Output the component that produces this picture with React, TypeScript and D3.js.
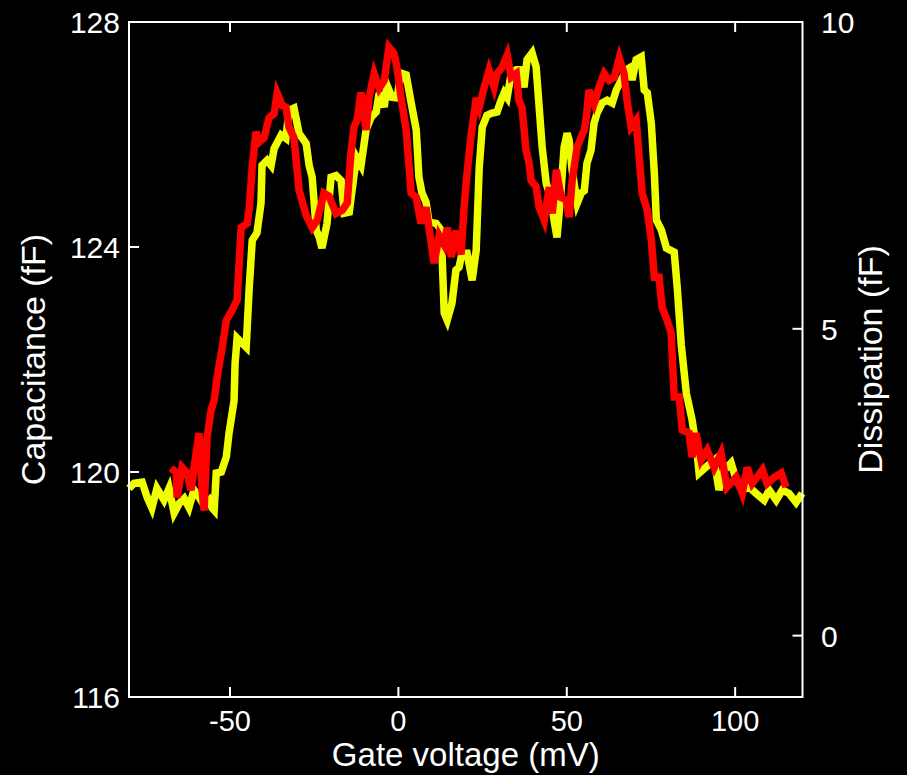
import React from "react";
import * as d3 from "d3";

// Gate-voltage sweep: capacitance (left axis) and dissipation (right axis)
const capVoltage = [
  -80, -78.5, -76.1, -74.6, -73.2, -71.7, -69.6, -68.1, -66.6, -65.1, -63.6, -62.2, -60.7, -59.2, -57.7, -56.2,
  -55.3, -54.7, -54.1, -52.6, -51.1, -50.3, -48.8, -48.5, -47.9, -45.2, -44.3, -43.4, -42.0, -40.8, -40.5, -39.0,
  -37.8, -36.9, -34.8, -33.4, -32.5, -31.0, -29.5, -27.4, -26.5, -25.6, -24.4, -23.5, -22.7, -21.2, -20.0, -18.5,
  -17.0, -16.1, -14.6, -13.1, -12.3, -11.1, -9.6, -8.1, -6.6, -5.7, -4.2, -3.4, -1.9, -0.4, 0.8, 2.3,
  3.8, 5.3, 6.1, 7.0, 8.2, 9.1, 11.2, 12.7, 13.6, 14.5, 15.9, 17.1, 18.0, 18.9, 20.4, 21.9,
  23.1, 24.0, 24.9, 26.3, 27.8, 29.3, 30.5, 31.4, 32.3, 33.5, 35.0, 36.4, 37.3, 38.2, 39.7, 40.9,
  41.8, 42.7, 43.9, 45.4, 46.2, 47.1, 48.3, 49.2, 50.1, 50.7, 51.6, 53.1, 54.3, 55.2, 56.0, 57.2,
  58.1, 59.0, 60.5, 62.0, 63.5, 64.7, 66.2, 67.7, 68.5, 69.4, 70.6, 72.1, 73.0, 73.9, 75.1, 76.0,
  76.6, 78.1, 79.6, 81.9, 82.8, 84.0, 85.5, 87.2, 88.7, 89.3, 91.4, 93.8, 95.2, 96.7, 98.8, 100.3,
  102.1, 104.2, 106.2, 108.6, 110.1, 112.2, 114.0, 116.0, 118.1, 119.9,
];
const capacitance = [
  119.71, 119.8, 119.82, 119.55, 119.36, 119.71, 119.5, 119.71, 119.27, 119.44, 119.53, 119.37, 119.68, 119.55, 119.41, 119.5,
  119.36, 119.32, 119.98, 120.0, 120.27, 120.69, 121.27, 121.93, 122.38, 122.22, 123.28, 124.12, 124.25, 124.78, 125.45, 125.54,
  125.45, 125.75, 125.99, 125.93, 126.43, 126.47, 126.02, 125.84, 125.45, 125.24, 124.3, 124.17, 123.98, 124.42, 125.24, 125.27,
  125.18, 124.6, 124.62, 125.31, 125.58, 125.45, 126.08, 126.31, 126.4, 126.74, 126.49, 126.88, 126.66, 126.65, 127.09, 127.06,
  126.56, 126.08, 125.24, 124.96, 124.8, 124.44, 124.42, 124.3, 122.83, 122.7, 123.0, 123.59, 123.64, 123.89, 123.89, 123.41,
  123.94, 125.41, 126.13, 126.34, 126.38, 126.4, 126.61, 126.74, 126.66, 127.09, 127.15, 127.15, 126.84, 127.33, 127.45, 127.2,
  126.49, 125.77, 125.13, 124.84, 124.48, 124.17, 125.0, 125.77, 126.02, 125.9, 125.36, 124.78, 124.96, 125.0, 125.49, 125.72,
  126.2, 126.38, 126.56, 126.61, 126.56, 126.79, 126.97, 127.15, 127.18, 126.97, 127.33, 127.38, 126.79, 126.74, 126.2, 125.31,
  124.48, 124.3, 123.98, 123.91, 123.28, 122.26, 121.4, 120.93, 120.34, 119.98, 120.09, 120.21, 119.68, 120.03, 120.16, 119.86,
  119.68, 119.73, 119.62, 119.5, 119.68, 119.5, 119.68, 119.62, 119.46, 119.62,
];

const dissVoltage = [
  -67.5, -66.0, -65.7, -64.2, -62.7, -61.6, -60.7, -59.2, -58.3, -57.7, -56.8, -55.6, -54.7, -53.8, -52.3, -51.1,
  -49.4, -47.9, -46.7, -44.9, -44.3, -43.4, -42.3, -41.4, -39.9, -38.4, -36.9, -36.0, -34.5, -33.4, -32.5, -31.0,
  -29.5, -27.4, -25.6, -24.1, -22.1, -20.6, -18.5, -16.7, -15.2, -14.1, -13.2, -12.3, -11.1, -9.6, -8.7, -7.2,
  -5.7, -4.2, -2.8, -1.3, -0.4, 0.8, 2.3, 3.8, 5.3, 6.7, 8.2, 9.1, 10.6, 12.1, 13.6, 14.5,
  15.7, 17.1, 18.6, 19.5, 20.4, 21.6, 23.1, 24.0, 25.5, 26.9, 28.4, 29.3, 30.8, 32.3, 33.5, 35.0,
  35.8, 36.7, 37.9, 38.8, 39.4, 40.9, 41.8, 43.3, 44.8, 45.7, 46.9, 48.3, 49.8, 50.7, 51.6, 53.1,
  54.3, 55.2, 55.8, 56.6, 58.1, 59.6, 61.1, 62.6, 64.1, 65.6, 67.0, 67.9, 69.1, 70.6, 71.5, 72.4,
  73.9, 75.1, 76.0, 77.4, 78.3, 79.8, 81.0, 81.9, 83.4, 84.3, 86.3, 87.2, 88.4, 89.9, 91.7, 93.8,
  95.8, 97.6, 100.3, 102.1, 103.6, 105.1, 108.1, 109.5, 111.6, 113.7, 115.1,
];
const dissipation = [
  2.73, 2.66, 2.25, 2.74, 2.65, 2.37, 2.73, 3.3, 2.37, 2.04, 3.24, 3.68, 3.84, 4.22, 4.7, 5.14,
  5.3, 5.47, 6.65, 6.72, 6.96, 7.64, 8.21, 8.04, 8.11, 8.44, 8.51, 8.84, 8.64, 8.61, 8.29, 8.11,
  7.26, 6.85, 6.65, 6.77, 7.21, 7.16, 6.88, 6.93, 7.05, 7.86, 8.29, 8.4, 8.85, 8.24, 8.77, 9.16,
  8.92, 9.05, 9.59, 9.49, 9.25, 8.77, 8.24, 7.21, 7.14, 6.72, 6.98, 6.64, 6.07, 6.52, 6.37, 6.65,
  6.17, 6.6, 6.21, 6.98, 7.54, 8.16, 8.76, 8.61, 8.94, 9.21, 8.94, 9.16, 9.26, 9.46, 9.1, 9.16,
  8.72, 8.61, 7.91, 7.7, 7.42, 7.31, 6.98, 6.77, 7.31, 6.88, 7.59, 7.14, 7.1, 6.82, 7.42, 7.96,
  8.13, 8.24, 8.44, 8.89, 8.67, 8.94, 9.16, 9.05, 9.1, 9.41, 9.16, 8.72, 8.29, 8.4, 7.8, 7.21,
  6.93, 6.45, 5.84, 5.84, 5.35, 5.14, 4.93, 3.89, 3.89, 3.35, 3.3, 2.91, 3.3, 2.86, 3.02, 2.74,
  2.97, 2.42, 2.58, 2.32, 2.74, 2.48, 2.7, 2.48, 2.58, 2.65, 2.42,
];

const voltageTicks = [-50, 0, 50, 100];
const capTicks = [116, 120, 124, 128];
const dissTicks = [0, 5, 10];

const W = 907;
const H = 775;
const left = 129;
const right = 802.5;
const top = 22;
const bottom = 697;
const tickLen = 10;
const font = "'Liberation Sans', Arial, Helvetica, sans-serif";

export default function App() {
  const x = d3.scaleLinear().domain([-80, 120]).range([left, right]);
  const yCap = d3.scaleLinear().domain([116, 128]).range([bottom, top]);
  const yDiss = d3.scaleLinear().domain([-1, 10]).range([bottom, top]);

  const capLine = d3
    .line<number>()
    .x((_, i) => x(capVoltage[i]))
    .y((d) => yCap(d));
  const dissLine = d3
    .line<number>()
    .x((_, i) => x(dissVoltage[i]))
    .y((d) => yDiss(d));

  return (
    <svg
      width={W}
      height={H}
      style={{ position: "absolute", left: 0, top: 0, background: "#000" }}
      fontFamily={font}
    >
      <rect x={0} y={0} width={W} height={H} fill="#000" />

      <path
        d={capLine(capacitance) ?? ""}
        fill="none"
        stroke="#f0ff00"
        strokeWidth={7.5}
        strokeLinejoin="miter"
      />
      <path
        d={dissLine(dissipation) ?? ""}
        fill="none"
        stroke="#ff0000"
        strokeWidth={7.5}
        strokeLinejoin="miter"
      />

      {/* axes box */}
      <rect
        x={left}
        y={top}
        width={right - left}
        height={bottom - top}
        fill="none"
        stroke="#fff"
        strokeWidth={2}
      />

      {/* voltage ticks, bottom and top */}
      {voltageTicks.map((t) => (
        <g key={"vx" + t}>
          <line x1={x(t)} x2={x(t)} y1={bottom} y2={bottom - tickLen} stroke="#fff" strokeWidth={2} />
          <line x1={x(t)} x2={x(t)} y1={top} y2={top + tickLen} stroke="#fff" strokeWidth={2} />
          <text x={x(t)} y={731} fill="#fff" fontSize={29} textAnchor="middle">
            {t}
          </text>
        </g>
      ))}

      {/* capacitance ticks */}
      {capTicks.map((t) => (
        <g key={"c" + t}>
          <line x1={left} x2={left + tickLen} y1={yCap(t)} y2={yCap(t)} stroke="#fff" strokeWidth={2} />
          <text x={120} y={yCap(t) + 11} fill="#fff" fontSize={30} textAnchor="end">
            {t}
          </text>
        </g>
      ))}

      {/* dissipation ticks */}
      {dissTicks.map((t) => (
        <g key={"d" + t}>
          <line x1={right} x2={right - tickLen} y1={yDiss(t)} y2={yDiss(t)} stroke="#fff" strokeWidth={2} />
          <text x={821} y={yDiss(t) + 11} fill="#fff" fontSize={30} textAnchor="start">
            {t}
          </text>
        </g>
      ))}

      <text x={(left + right) / 2} y={766} fill="#fff" fontSize={33} textAnchor="middle">
        Gate voltage (mV)
      </text>
      <text
        transform={`translate(45, ${(top + bottom) / 2}) rotate(-90)`}
        fill="#fff"
        fontSize={34}
        textAnchor="middle"
      >
        Capacitance (fF)
      </text>
      <text
        transform={`translate(882, ${(top + bottom) / 2}) rotate(-90)`}
        fill="#fff"
        fontSize={34}
        textAnchor="middle"
      >
        Dissipation (fF)
      </text>
    </svg>
  );
}
